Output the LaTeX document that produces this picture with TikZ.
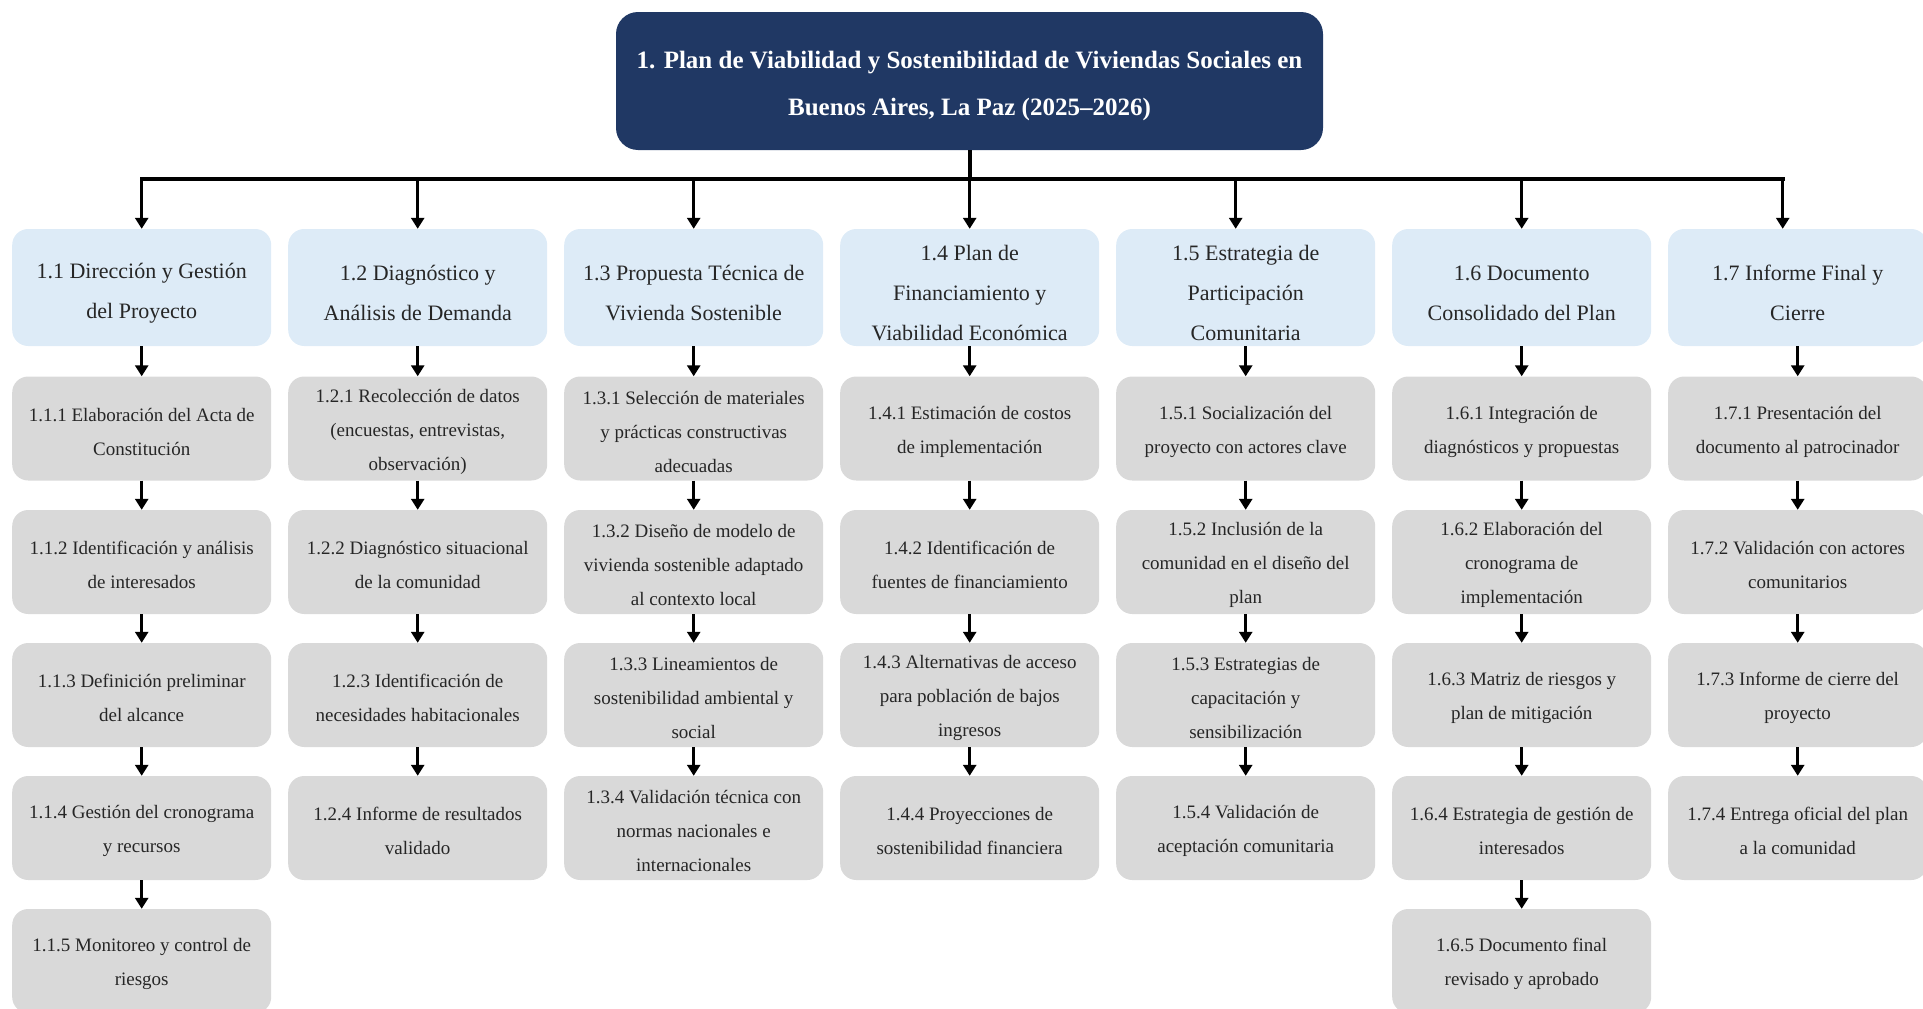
\documentclass[tikz,border=0pt]{standalone}
\usepackage{fontspec}
\setmainfont{Liberation Serif}
\usetikzlibrary{arrows.meta}
\definecolor{navy}{HTML}{203864}
\definecolor{lblue}{HTML}{DDEBF7}
\definecolor{lgray}{HTML}{D9D9D9}
\definecolor{txt}{HTML}{262626}
% box + text, text nudged down a little
\newcommand{\boxtwo}[3]{\node[lvtwo] (#1) at (#2) {};
  \node[txttwo] (#1t) at ([yshift=-5.5pt]#1.center) {#3};}
\newcommand{\boxthree}[3]{\node[lvthree] (#1) at (#2) {};
  \node[txtthree] (#1t) at ([yshift=-3pt]#1.center) {#3};}
\begin{document}
\begin{tikzpicture}[x=1pt,y=-1pt,
  titlebox/.style={rectangle, rounded corners=22pt, fill=navy,
    minimum width=707pt, minimum height=138pt, inner sep=0pt},
  titletxt/.style={text=white, align=center, inner sep=0pt,
    font=\fontsize{25}{46.6}\selectfont\bfseries},
  lvtwo/.style={rectangle, rounded corners=16pt, fill=lblue,
    minimum width=259pt, minimum height=117pt, inner sep=0pt},
  txttwo/.style={text=txt, align=center, inner sep=0pt,
    font=\fontsize{22}{40}\selectfont},
  lvthree/.style={rectangle, rounded corners=16pt, fill=lgray,
    minimum width=259pt, minimum height=104pt, inner sep=0pt},
  txtthree/.style={text=txt, align=center, inner sep=0pt,
    font=\fontsize{19}{34}\selectfont},
  arr/.style={line width=3.5pt, -{Triangle[width=13pt,length=11pt]}},
  conn/.style={line width=4pt}
]
\useasboundingbox (0,0) rectangle (1923,1009);
\clip (0,0) rectangle (1923,1009);

% title
\node[titlebox] (t) at (969.5,81) {};
\node[titletxt] (tt) at ([yshift=-5pt]t.center) {1. Plan de Viabilidad y Sostenibilidad de Viviendas Sociales en\\Buenos Aires, La Paz (2025–2026)};

% level 2
\boxtwo{a1}{141.7,287.5}{1.1 Dirección y Gestión\\del Proyecto}
\boxtwo{a2}{417.7,287.5}{1.2 Diagnóstico y\\Análisis de Demanda}
\boxtwo{a3}{693.7,287.5}{1.3 Propuesta Técnica de\\Vivienda Sostenible}
\boxtwo{a4}{969.7,287.5}{1.4 Plan de\\Financiamiento y\\Viabilidad Económica}
\boxtwo{a5}{1245.7,287.5}{1.5 Estrategia de\\Participación\\Comunitaria}
\boxtwo{a6}{1521.7,287.5}{1.6 Documento\\Consolidado del Plan}
\boxtwo{a7}{1797.7,287.5}{1.7 Informe Final y\\Cierre}

% level 3 - column 1
\boxthree{b11}{141.7,428.5}{1.1.1 Elaboración del Acta de\\Constitución}
\boxthree{b12}{141.7,562}{1.1.2 Identificación y análisis\\de interesados}
\boxthree{b13}{141.7,695}{1.1.3 Definición preliminar\\del alcance}
\boxthree{b14}{141.7,828}{1.1.4 Gestión del cronograma\\y recursos}
\boxthree{b15}{141.7,961}{1.1.5 Monitoreo y control de\\riesgos}
% column 2
\boxthree{b21}{417.7,428.5}{1.2.1 Recolección de datos\\(encuestas, entrevistas,\\observación)}
\boxthree{b22}{417.7,562}{1.2.2 Diagnóstico situacional\\de la comunidad}
\boxthree{b23}{417.7,695}{1.2.3 Identificación de\\necesidades habitacionales}
\boxthree{b24}{417.7,828}{1.2.4 Informe de resultados\\validado}
% column 3
\boxthree{b31}{693.7,428.5}{1.3.1 Selección de materiales\\y prácticas constructivas\\adecuadas}
\boxthree{b32}{693.7,562}{1.3.2 Diseño de modelo de\\vivienda sostenible adaptado\\al contexto local}
\boxthree{b33}{693.7,695}{1.3.3 Lineamientos de\\sostenibilidad ambiental y\\social}
\boxthree{b34}{693.7,828}{1.3.4 Validación técnica con\\normas nacionales e\\internacionales}
% column 4
\boxthree{b41}{969.7,428.5}{1.4.1 Estimación de costos\\de implementación}
\boxthree{b42}{969.7,562}{1.4.2 Identificación de\\fuentes de financiamiento}
\boxthree{b43}{969.7,695}{1.4.3 Alternativas de acceso\\para población de bajos\\ingresos}
\boxthree{b44}{969.7,828}{1.4.4 Proyecciones de\\sostenibilidad financiera}
% column 5
\boxthree{b51}{1245.7,428.5}{1.5.1 Socialización del\\proyecto con actores clave}
\boxthree{b52}{1245.7,562}{1.5.2 Inclusión de la\\comunidad en el diseño del\\plan}
\boxthree{b53}{1245.7,695}{1.5.3 Estrategias de\\capacitación y\\sensibilización}
\boxthree{b54}{1245.7,828}{1.5.4 Validación de\\aceptación comunitaria}
% column 6
\boxthree{b61}{1521.7,428.5}{1.6.1 Integración de\\diagnósticos y propuestas}
\boxthree{b62}{1521.7,562}{1.6.2 Elaboración del\\cronograma de\\implementación}
\boxthree{b63}{1521.7,695}{1.6.3 Matriz de riesgos y\\plan de mitigación}
\boxthree{b64}{1521.7,828}{1.6.4 Estrategia de gestión de\\interesados}
\boxthree{b65}{1521.7,961}{1.6.5 Documento final\\revisado y aprobado}
% column 7
\boxthree{b71}{1797.7,428.5}{1.7.1 Presentación del\\documento al patrocinador}
\boxthree{b72}{1797.7,562}{1.7.2 Validación con actores\\comunitarios}
\boxthree{b73}{1797.7,695}{1.7.3 Informe de cierre del\\proyecto}
\boxthree{b74}{1797.7,828}{1.7.4 Entrega oficial del plan\\a la comunidad}

% connectors from title
\coordinate (bar) at (969.5,179);
\draw[conn] (t.south) -- (bar);
\draw[conn, line cap=rect] (a1.north |- bar) -- ([xshift=-15pt]a7.north |- bar);
\draw[arr] (a1.north |- bar) -- (a1.north);
\draw[arr] (a2.north |- bar) -- (a2.north);
\draw[arr] (a3.north |- bar) -- (a3.north);
\draw[arr] (a4.north |- bar) -- (a4.north);
\draw[arr] ([xshift=-10pt]a5.north |- bar) -- ([xshift=-10pt]a5.north);
\draw[arr] (a6.north |- bar) -- (a6.north);
\draw[arr] ([xshift=-15pt]a7.north |- bar) -- ([xshift=-15pt]a7.north);

% vertical chains
\foreach \a/\b in {a1/b11,b11/b12,b12/b13,b13/b14,b14/b15,
                   a2/b21,b21/b22,b22/b23,b23/b24,
                   a3/b31,b31/b32,b32/b33,b33/b34,
                   a4/b41,b41/b42,b42/b43,b43/b44,
                   a5/b51,b51/b52,b52/b53,b53/b54,
                   a6/b61,b61/b62,b62/b63,b63/b64,b64/b65,
                   a7/b71,b71/b72,b72/b73,b73/b74}
  \draw[arr] (\a.south) -- (\b.north);
\end{tikzpicture}
\end{document}
